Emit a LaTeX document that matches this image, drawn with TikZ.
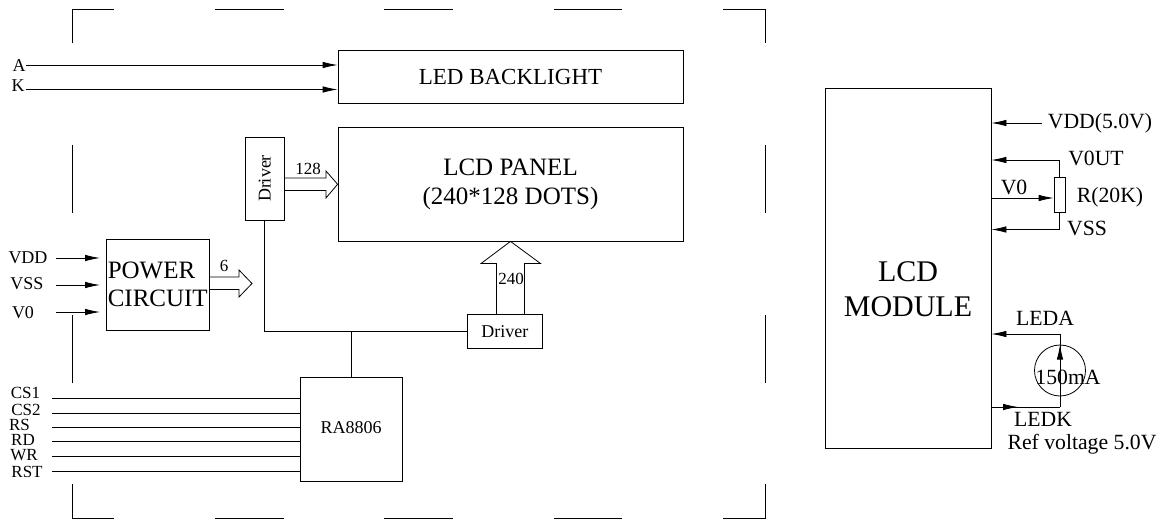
\documentclass[tikz,border=0pt]{standalone}
\usepackage{fontspec}
\setmainfont{Liberation Serif}
\usetikzlibrary{arrows.meta,calc}

\begin{document}
\begin{tikzpicture}[
  x=1pt, y=-1pt,
  line width=0.8pt,
  every node/.style={font=\fontsize{18}{18}\selectfont, inner sep=0pt},
  stage/.style n args={2}{draw, minimum width=#1pt, minimum height=#2pt, align=center},
  arrow/.style={-{Latex[length=15pt,width=6.5pt]}},
  big/.style={font=\fontsize{25}{28.5}\selectfont},
  note/.style={font=\fontsize{17}{17}\selectfont},
  side/.style={font=\fontsize{21.7}{21.7}\selectfont},
]
  \useasboundingbox (0,0) rectangle (1162,522);

  % Blocks of the module
  \node[stage={345}{53}, font=\fontsize{23}{23}\selectfont] (backlight) at (510.5,76.5) {LED BACKLIGHT};
  \node[stage={345}{113.5}, big] (panel) at (510.5,184.25) {LCD PANEL\\(240*128 DOTS)};
  \node[stage={38.5}{83}] (drvleft) at (264.75,178.5) {\raisebox{-3.5pt}{\rotatebox{90}{Driver}}};
  \node[stage={102.5}{91}, big, align=left] (power) at (157.75,284.5) {POWER\\CIRCUIT};
  \node[stage={75.5}{34.5}] (drvlow) at (504.75,331.25) {Driver};
  \node[stage={102}{104}] (ctrl) at (351,429) {\raisebox{3.5pt}{RA8806}};
  \node[stage={166}{360}] (module) at (908,268) {};
  \node[font=\fontsize{30}{35}\selectfont, align=center] (moduletext) at (908,289) {LCD\\MODULE};

  % Broken outline
  \draw (72,43) -- (72,9) -- (114,9);
  \draw (723,9) -- (765.5,9) -- (765.5,43);
  \draw (72,484) -- (72,518.5) -- (114,518.5);
  \draw (723,518.5) -- (765.5,518.5) -- (765.5,484);
  \foreach \xa/\xb in {215/284, 384/453, 554/622} {
    \draw (\xa,9) -- (\xb,9);
    \draw (\xa,518.5) -- (\xb,518.5);
  }
  \foreach \ya/\yb in {145/213, 315/383} {
    \draw (72,\ya) -- (72,\yb);
    \draw (765.5,\ya) -- (765.5,\yb);
  }

  % Backlight and power inputs
  \foreach \name/\ypos/\ytext/\xtext in {A/65/66/19, K/89.5/86/18} {
    \node (in\name) at (\xtext,\ytext) {\name};
    \draw[arrow] (26,\ypos) -- (backlight.west |- 0,\ypos);
  }
  \foreach \name/\ypos/\ytext/\xtext in {VDD/258/258/28, VSS/285/284/27, V0/312/313/23} {
    \node (in\name) at (\xtext,\ytext) {\name};
    \draw[arrow] (56,\ypos) -- (100,\ypos);
  }

  % Control lines
  \foreach \name/\ypos/\ytext/\xtext in {CS1/398/393/25.5, CS2/413/410/26, RS/427/425/19.5,
      RD/441.5/440/23, WR/456.5/455/24, RST/471/472/27} {
    \node[note] (in\name) at (\xtext,\ytext) {\name};
    \draw (52,\ypos) -- (ctrl.west |- 0,\ypos);
  }

  % Data bus
  \draw (drvleft.south) |- (drvlow.west);
  \draw (ctrl.north) -- (ctrl.north |- drvlow.west);

  % Wide arrows
  \coordinate (powertip) at (252,283.5);
  \draw (drvleft.east |- 0,178) -- (326,178) -- (326,171) -- (panel.west)
    -- (326,198) -- (326,190.5) -- (drvleft.east |- 0,190.5);
  \draw (power.east |- 0,277) -- (239,277) -- (239,270) -- (powertip)
    -- (239,297) -- (239,289.5) -- (power.east |- 0,289.5);
  \draw (496.5,314) -- (496.5,263.5) -- (481,263.5) -- (panel.south)
    -- (540.5,263.5) -- (524.5,263.5) -- (524.5,314);
  \node[note] (bus128) at (308,169) {128};
  \node[note] (bus6) at (224,266) {6};
  \node[note] (bus240) at (511,279) {240};

  % Contrast adjustment
  \node[stage={11.5}{34.5}] (pot) at (1059.75,195) {};
  \draw[arrow] (1042,123) -- (module.east |- 0,123);
  \draw[arrow] (pot.north) |- (module.east |- 0,160);
  \draw[arrow] (pot.south) |- (module.east |- 0,229.5);
  \draw[arrow] (module.east |- 0,198) -- (pot.west |- 0,198);
  \node[side] (vdd) at (1100,123) {VDD(5.0V)};
  \node[side] (vout) at (1096,158) {V0UT};
  \node[side] (potval) at (1110,197) {R(20K)};
  \node[side] (vss) at (1087,228) {VSS};
  \node[side] (vzero) at (1014,187) {V0};

  % Backlight supply
  \node[draw, circle, minimum size=51pt] (meter) at (1060,370.5) {};
  \draw[arrow] (meter.north |- 0,407) -- (meter.north |- 0,334) -- (module.east |- 0,334);
  \draw (module.east |- 0,407) -- (meter.north |- 0,407);
  \draw[arrow] (module.east |- 0,407) -- (1018,407);
  \draw[arrow] (meter.center) -- (meter.north);
  \node[side] (current) at (1068,377) {150mA};
  \node[side] (leda) at (1045,318) {LEDA};
  \node[side] (ledk) at (1043,419) {LEDK};
  \node[side] (refv) at (1082,444) {Ref voltage 5.0V};
\end{tikzpicture}
\end{document}
